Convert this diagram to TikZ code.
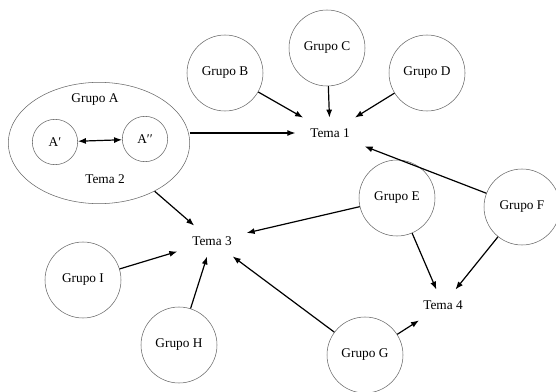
\documentclass[tikz,border=0pt]{standalone}
\usepackage{fontspec}
\setmainfont{Liberation Serif}
\usetikzlibrary{shapes,arrows,arrows.meta,positioning}

\begin{document}
\begin{tikzpicture}[x=0.75pt,y=-0.75pt,
	grupo/.style={draw=black!60,circle,line width=0.4pt,minimum size=57pt,inner sep=0pt},
	subgrupo/.style={draw=black!60,circle,line width=0.4pt,minimum size=34pt,inner sep=0pt},
	tema/.style={inner xsep=11pt,inner ysep=8pt},
	flecha/.style={-{Latex[length=6pt,width=4.5pt]},line width=0.9pt}]
	\useasboundingbox (0,0) rectangle (556,392);
	% group A with its two parts
	\node[draw=black!60,ellipse,line width=0.4pt,minimum width=136pt,minimum height=91pt] (grpA) at (99,143) {};
	\node (lblA) at (95,100) {Grupo A};
	\node (lblT2) at (105,179) {Tema 2};
	\node[subgrupo] (a1) at (55,142) {A′};
	\node[subgrupo] (a2) at (145,139) {A′′};
	\draw[{Latex[length=6pt,width=4.5pt]}-{Latex[length=6pt,width=4.5pt]},line width=0.9pt] (a1) -- (a2);
	%% the groups
	\node[grupo] (grpB) at (225,73) {Grupo B};
	\node[grupo] (grpC) at (327,48) {Grupo C};
	\node[grupo] (grpD) at (427,73) {Grupo D};
	\node[grupo] (grpE) at (397,198) {Grupo E};
	\node[grupo] (grpF) at (522,207) {Grupo F};
	\node[grupo] (grpG) at (365,355) {Grupo G};
	\node[grupo] (grpH) at (179,345) {Grupo H};
	\node[grupo] (grpI) at (83,280) {Grupo I};
	%% the themes
	\node[tema] (tema1) at (330,133) {Tema 1};
	\node[tema] (tema3) at (212,241) {Tema 3};
	\node[tema] (tema4) at (443,305) {Tema 4};
	%% the arrows
	\draw[flecha] (grpA.east |- tema1) -- (tema1);
	\draw[flecha] (grpB) -- (tema1);
	\draw[flecha] (grpC) -- (tema1);
	\draw[flecha] (grpD) -- (tema1);
	\draw[flecha] (grpF) -- (tema1);
	\draw[flecha] (grpA) -- (tema3);
	\draw[flecha] (grpE) -- (tema3);
	\draw[flecha] (grpG) -- (tema3);
	\draw[flecha] (grpI) -- (tema3);
	\draw[flecha] (grpH) -- (tema3);
	\draw[flecha] (grpE) -- (tema4);
	\draw[flecha] (grpF) -- (tema4);
	\draw[flecha] (grpG) -- (tema4);
\end{tikzpicture}
\end{document}
